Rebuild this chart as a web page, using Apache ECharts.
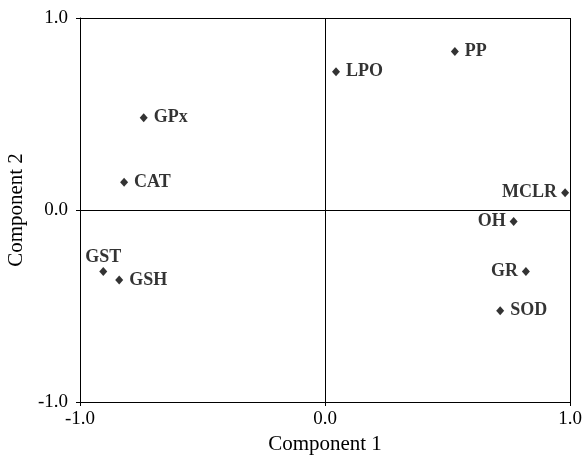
<!DOCTYPE html>
<html>
<head>
<meta charset="utf-8">
<script src="https://cdn.jsdelivr.net/npm/echarts@6/dist/echarts.min.js"></script>
<style>
  html, body { margin: 0; padding: 0; background: #fff; }
  #chart { width: 583px; height: 458px; }
</style>
</head>
<body>
<div id="chart"></div>
<script>
// Loadings of each variable on the first two principal components
const variables = ['PP', 'LPO', 'GPx', 'CAT', 'MCLR', 'OH', 'GR', 'SOD', 'GST', 'GSH'];
const component1 = [0.53, 0.045, -0.74, -0.82, 0.98, 0.77, 0.82, 0.715, -0.905, -0.84];
const component2 = [0.825, 0.72, 0.48, 0.145, 0.09, -0.06, -0.32, -0.525, -0.32, -0.365];
const axisTicks = [-1.0, 0.0, 1.0];

// Where each variable's name sits relative to its marker
const labelPlacement = {
  PP: 'right', LPO: 'right', GPx: 'right', CAT: 'right', GSH: 'right', SOD: 'right',
  MCLR: 'left', OH: 'left', GR: 'left', GST: 'top'
};
const labelGap = { right: 6, left: 4, top: 1 };

const serif = '"Liberation Serif", "Times New Roman", serif';

const points = variables.map((name, i) => ({
  name: name,
  value: [component1[i], component2[i]],
  label: {
    position: labelPlacement[name],
    distance: labelGap[labelPlacement[name]]
  }
}));

const chart = echarts.init(document.getElementById('chart'), null, { renderer: 'canvas' });

const lineStyle = { color: '#000', width: 1 };

chart.setOption({
  animation: false,
  backgroundColor: '#fff',
  grid: { left: 80, right: 13, top: 18, bottom: 56, containLabel: false, outerBoundsMode: 'none' },
  xAxis: {
    type: 'value',
    min: axisTicks[0], max: axisTicks[axisTicks.length - 1], interval: 1,
    name: 'Component 1', nameLocation: 'middle', nameGap: 28,
    nameTextStyle: { fontFamily: serif, fontSize: 21, color: '#000' },
    axisLine: { show: true, onZero: false, lineStyle: lineStyle },
    axisTick: { show: true, inside: false, length: 4, lineStyle: lineStyle },
    axisLabel: { fontFamily: serif, fontSize: 19, color: '#000', margin: 8,
                 formatter: v => v.toFixed(1) },
    splitLine: { show: true, lineStyle: lineStyle }
  },
  yAxis: {
    type: 'value',
    min: axisTicks[0], max: axisTicks[axisTicks.length - 1], interval: 1,
    name: 'Component 2', nameLocation: 'middle', nameGap: 53, nameRotate: 90,
    nameTextStyle: { fontFamily: serif, fontSize: 21, color: '#000' },
    axisLine: { show: true, onZero: false, lineStyle: lineStyle },
    axisTick: { show: true, inside: false, length: 4, lineStyle: lineStyle },
    axisLabel: { fontFamily: serif, fontSize: 19, color: '#000', margin: 12,
                 formatter: v => v.toFixed(1) },
    splitLine: { show: true, lineStyle: lineStyle }
  },
  series: [{
    type: 'scatter',
    symbol: 'diamond',
    symbolSize: [8, 9],
    itemStyle: { color: '#000' },
    label: {
      show: true,
      formatter: p => p.name,
      fontFamily: serif,
      fontWeight: 'bold',
      fontSize: 18,
      color: '#000'
    },
    data: points
  }]
});
</script>
</body>
</html>
